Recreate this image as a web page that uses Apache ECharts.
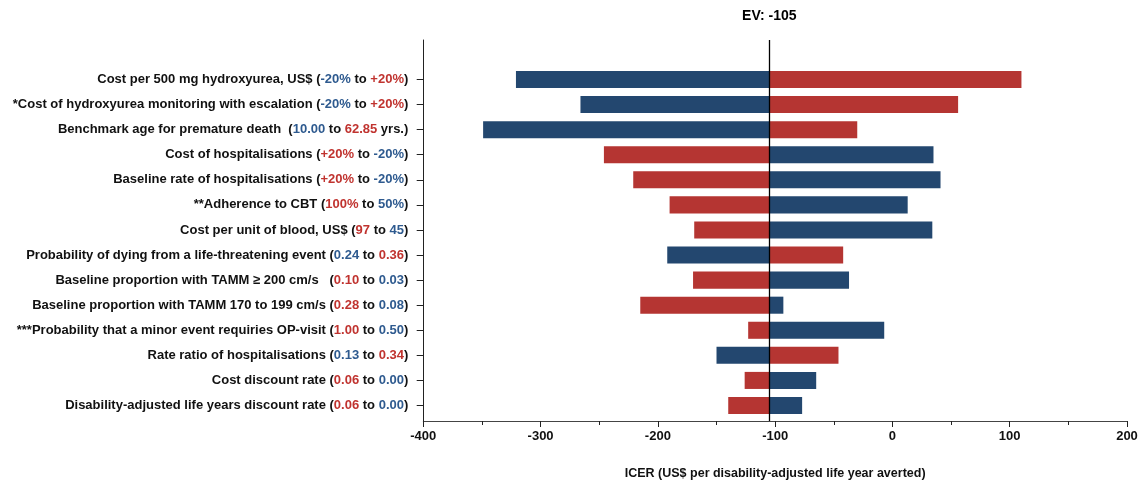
<!DOCTYPE html>
<html>
<head>
<meta charset="utf-8">
<script src="https://cdn.jsdelivr.net/npm/echarts@6/dist/echarts.min.js"></script>
<style>
html,body{margin:0;padding:0;background:#fff;}
#chart{width:1140px;height:482px;}
</style>
</head>
<body>
<div id="chart"></div>
<script>
// ---- data ----
const EV = -105;
const paramNames = [
  'Cost per 500 mg hydroxyurea, US$',
  '*Cost of hydroxyurea monitoring with escalation',
  'Benchmark age for premature death ',
  'Cost of hospitalisations',
  'Baseline rate of hospitalisations',
  '**Adherence to CBT',
  'Cost per unit of blood, US$',
  'Probability of dying from a life-threatening event',
  'Baseline proportion with TAMM \u2265 200 cm/s  ',
  'Baseline proportion with TAMM 170 to 199 cm/s',
  '***Probability that a minor event requiries OP-visit',
  'Rate ratio of hospitalisations',
  'Cost discount rate',
  'Disability-adjusted life years discount rate'
];
const rangeFrom = ['-20%', '-20%', '10.00', '+20%', '+20%', '100%', '97', '0.24', '0.10', '0.28', '1.00', '0.13', '0.06', '0.06'];
const rangeTo   = ['+20%', '+20%', '62.85', '-20%', '-20%', '50%', '45', '0.36', '0.03', '0.08', '0.50', '0.34', '0.00', '0.00'];
const fromIsHigh = [false, false, false, true, true, true, true, false, true, true, true, false, true, true];
const rangeSuffix = ['', '', ' yrs.', '', '', '', '', '', '', '', '', '', '', ''];
// ICER at the low (blue) and high (red) parameter value
const lowValueICER  = [-321, -266, -349, 35, 41, 13, 34, -192, -37, -93, -7, -150, -65, -77];
const highValueICER = [110, 56, -30, -246, -221, -190, -169, -42, -170, -215, -123, -46, -126, -140];
const xTicks = { min: -400, max: 200, interval: 100 };
const xTitle = 'ICER (US$ per disability-adjusted life year averted)';

// ---- styles ----
const BLUE = '#23476f';
const RED = '#b53532';
const FONT = '"Liberation Sans", Arial, Helvetica, sans-serif';
const TXT = '#111';

const categories = paramNames.map((n, i) => 'c' + i);
function labelFor(i) {
  const a = fromIsHigh[i] ? 'r' : 'b';
  const b = fromIsHigh[i] ? 'b' : 'r';
  return '{t|' + paramNames[i] + ' (}{' + a + '|' + rangeFrom[i] + '}{t| to }{' + b + '|' + rangeTo[i] + '}{t|' + rangeSuffix[i] + ')}';
}

function renderBar(params, api) {
  const cat = api.value(0);
  const p1 = api.coord([api.value(1), cat]);
  const p2 = api.coord([api.value(2), cat]);
  const h = api.size([0, 1])[1] * 0.68;
  return {
    type: 'rect',
    shape: { x: Math.min(p1[0], p2[0]), y: p1[1] - h / 2, width: Math.abs(p2[0] - p1[0]), height: h },
    style: api.style()
  };
}

const chart = echarts.init(document.getElementById('chart'), null, { renderer: 'canvas' });
const gridLeft = 423.3, gridRight = 13;
chart.setOption({
  animation: false,
  backgroundColor: '#fff',
  textStyle: { fontFamily: FONT },
  grid: [
    { left: gridLeft, right: gridRight, top: 40, bottom: 61, outerBoundsMode: 'none', containLabel: false },
    { left: gridLeft, right: gridRight, top: 66.96, bottom: 63.96, outerBoundsMode: 'none', containLabel: false }
  ],
  xAxis: [
    {
      gridIndex: 0, type: 'value', min: xTicks.min, max: xTicks.max, interval: xTicks.interval,
      axisLine: { show: true, onZero: false, lineStyle: { color: '#444', width: 1 } },
      axisTick: { show: true, length: 6, lineStyle: { color: '#222', width: 1 } },
      minorTick: { show: true, splitNumber: 2, length: 4, lineStyle: { color: '#222', width: 1 } },
      splitLine: { show: false },
      axisLabel: { margin: 9, fontSize: 13, fontWeight: 'bold', color: TXT, fontFamily: FONT },
      name: xTitle, nameLocation: 'middle', nameGap: 46,
      nameTextStyle: { fontSize: 12.5, fontWeight: 'bold', color: TXT, fontFamily: FONT }
    },
    {
      gridIndex: 1, type: 'value', min: xTicks.min, max: xTicks.max, interval: xTicks.interval,
      show: false
    }
  ],
  yAxis: [
    {
      gridIndex: 0, type: 'value', min: 0, max: 1,
      axisLine: { show: true, onZero: false, lineStyle: { color: '#222', width: 1 } },
      axisTick: { show: false }, axisLabel: { show: false }, splitLine: { show: false }
    },
    {
      gridIndex: 1, type: 'category', inverse: true, data: categories,
      axisLine: { show: false, onZero: false },
      axisTick: { show: true, alignWithLabel: true, length: 6.6, lineStyle: { color: '#222', width: 1 } },
      splitLine: { show: false },
      axisLabel: {
        margin: 15,
        formatter: (v, i) => labelFor(i),
        rich: {
          t: { fontSize: 13, fontWeight: 'bold', color: TXT, fontFamily: FONT },
          b: { fontSize: 13, fontWeight: 'bold', color: '#2e5a8f', fontFamily: FONT },
          r: { fontSize: 13, fontWeight: 'bold', color: '#c0332f', fontFamily: FONT }
        }
      }
    }
  ],
  series: [
    {
      name: 'Low value', type: 'custom', xAxisIndex: 1, yAxisIndex: 1,
      renderItem: renderBar, encode: { x: [1, 2], y: 0 },
      itemStyle: { color: BLUE },
      data: lowValueICER.map((v, i) => [i, EV, v])
    },
    {
      name: 'High value', type: 'custom', xAxisIndex: 1, yAxisIndex: 1,
      renderItem: renderBar, encode: { x: [1, 2], y: 0 },
      itemStyle: { color: RED },
      data: highValueICER.map((v, i) => [i, EV, v])
    },
    {
      name: 'EV', type: 'scatter', xAxisIndex: 0, yAxisIndex: 0, z: 10,
      symbolSize: 0, data: [[EV, 0]], silent: true,
      markLine: {
        silent: true, symbol: 'none', animation: false,
        lineStyle: { color: '#000', width: 1.3, type: 'solid' },
        label: {
          show: true, position: 'end', distance: 17,
          formatter: 'EV: ' + EV,
          fontSize: 14, fontWeight: 'bold', color: '#000', fontFamily: FONT
        },
        data: [{ xAxis: EV }]
      }
    }
  ]
});
</script>
</body>
</html>
